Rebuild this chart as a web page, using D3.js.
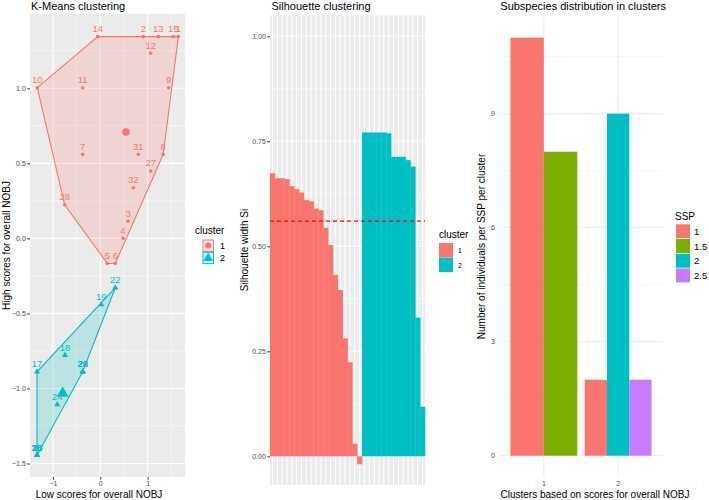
<!DOCTYPE html>
<html>
<head>
<meta charset="utf-8">
<script src="https://cdn.jsdelivr.net/npm/d3@7"></script>
<style>
  body { margin: 0; background: #fff; }
  text { font-family: "Liberation Sans", Arial, sans-serif; }
</style>
</head>
<body>
<div id="container"></div>
<script>
// ---- data ----
// k-means scores per individual
var pointLabels  = ["14","2","13","15","1","12","10","11","9","7","31","8","27","32","28","3","4","5","6",
                    "22","19","18","17","26","29","21","24","20","23","25","30","16"];
var pointX = [-0.055,0.91,1.226,1.54,1.65,1.065,-1.332,-0.372,1.446,-0.372,0.803,1.33,1.065,0.698,-0.753,0.586,0.48,0.148,0.317,
              0.317,0.02,-0.746,-1.338,-0.372,-0.372,-0.372,-0.909,-1.338,-1.338,-1.338,-1.338,-1.338];
var pointY = [1.344,1.344,1.344,1.344,1.344,1.233,1.004,1.004,1.004,0.56,0.56,0.56,0.449,0.337,0.224,0.115,0.0,-0.167,-0.167,
              -0.329,-0.44,-0.778,-0.889,-0.889,-0.889,-0.889,-1.107,-1.445,-1.445,-1.445,-1.445,-1.445];
var pointCluster = ["1","1","1","1","1","1","1","1","1","1","1","1","1","1","1","1","1","1","1",
                    "2","2","2","2","2","2","2","2","2","2","2","2","2"];
var centerCluster = ["1","2"];
var centerX = [0.543,-0.795];
var centerY = [0.708,-1.033];

// silhouette widths, sorted within cluster
var silCluster1 = [0.674,0.662,0.662,0.660,0.643,0.636,0.628,0.610,0.607,0.590,0.586,0.544,0.503,0.432,0.396,0.281,0.224,0.030,-0.019];
var silCluster2 = [0.771,0.771,0.771,0.771,0.771,0.769,0.713,0.713,0.713,0.705,0.690,0.330,0.118];
var silAverage = 0.56;

// subspecies counts per cluster
var sspLevels  = ["1","1.5","2","2.5"];
var sspCluster = ["1","1","2","2","2"];
var sspGroup   = ["1","1.5","1","2","2.5"];
var sspCount   = [11,8,2,9,2];

var clusterColors = ["#F8766D","#00BFC4"];
var sspColors = ["#F8766D","#7CAE00","#00BFC4","#C77CFF"];

var W = 709, H = 500;
var svg = d3.select("#container").append("svg")
  .attr("width", W).attr("height", H).attr("id", "chart");

var tickCol = "#4D4D4D";

// =============== panel 1: k-means ===============
var p1 = {l: 30, r: 185, t: 14, b: 477};
var x1 = d3.scaleLinear().domain([-1.486, 1.79]).range([p1.l, p1.r]);
var y1 = d3.scaleLinear().domain([-1.59, 1.495]).range([p1.b, p1.t]);
var col1 = d3.scaleOrdinal().domain(["1","2"]).range(clusterColors);

svg.append("rect").attr("x", p1.l).attr("y", p1.t)
  .attr("width", p1.r - p1.l).attr("height", p1.b - p1.t).attr("fill", "#EBEBEB");

var g1 = svg.append("g");
[-1.5,-0.5,0.5,1.5].forEach(function(v) {
  g1.append("line").attr("x1", x1(v)).attr("x2", x1(v)).attr("y1", p1.t).attr("y2", p1.b)
    .attr("stroke", "#fff").attr("stroke-width", 0.5);
});
[-1.25,-0.75,-0.25,0.25,0.75,1.25].forEach(function(v) {
  g1.append("line").attr("x1", p1.l).attr("x2", p1.r).attr("y1", y1(v)).attr("y2", y1(v))
    .attr("stroke", "#fff").attr("stroke-width", 0.5);
});
var x1ticks = [-1,0,1], y1ticks = [-1.5,-1,-0.5,0,0.5,1];
x1ticks.forEach(function(v) {
  g1.append("line").attr("x1", x1(v)).attr("x2", x1(v)).attr("y1", p1.t).attr("y2", p1.b)
    .attr("stroke", "#fff").attr("stroke-width", 1.1);
});
y1ticks.forEach(function(v) {
  g1.append("line").attr("x1", p1.l).attr("x2", p1.r).attr("y1", y1(v)).attr("y2", y1(v))
    .attr("stroke", "#fff").attr("stroke-width", 1.1);
});

// hulls
["1","2"].forEach(function(c) {
  var pts = [];
  pointX.forEach(function(v, i) { if (pointCluster[i] === c) pts.push([x1(v), y1(pointY[i])]); });
  var hull = d3.polygonHull(pts);
  g1.append("path").attr("d", "M" + hull.join("L") + "Z")
    .attr("fill", col1(c)).attr("fill-opacity", 0.2)
    .attr("stroke", col1(c)).attr("stroke-width", 1.1);
});

// points
var tri = d3.symbol().type(d3.symbolTriangle);
pointX.forEach(function(v, i) {
  var c = pointCluster[i], px = x1(v), py = y1(pointY[i]);
  if (c === "1") {
    g1.append("circle").attr("cx", px).attr("cy", py).attr("r", 1.8).attr("fill", col1(c));
  } else {
    g1.append("path").attr("d", tri.size(16)()).attr("transform", "translate(" + px + "," + py + ")")
      .attr("fill", col1(c));
  }
  g1.append("text").attr("x", px).attr("y", py - 4.5).attr("text-anchor", "middle")
    .attr("font-size", 9.5).attr("fill", col1(c)).text(pointLabels[i]);
});
centerX.forEach(function(v, i) {
  var c = centerCluster[i], px = x1(v), py = y1(centerY[i]);
  if (c === "1") {
    g1.append("circle").attr("cx", px).attr("cy", py).attr("r", 3.8).attr("fill", col1(c));
  } else {
    g1.append("path").attr("d", tri.size(60)()).attr("transform", "translate(" + px + "," + py + ")")
      .attr("fill", col1(c));
  }
});

// axes
var ax1 = svg.append("g").attr("transform", "translate(0," + p1.b + ")")
  .call(d3.axisBottom(x1).tickValues(x1ticks).tickSize(2.7).tickPadding(1.5).tickFormat(d3.format("d")));
var ay1 = svg.append("g").attr("transform", "translate(" + p1.l + ",0)")
  .call(d3.axisLeft(y1).tickValues(y1ticks).tickSize(2.7).tickPadding(1.5).tickFormat(d3.format(".1f")));
[ax1, ay1].forEach(function(a) {
  a.select(".domain").remove();
  a.selectAll("line").attr("stroke", "#333");
  a.selectAll("text").attr("fill", tickCol).attr("font-size", 7).attr("font-family", "Liberation Sans, Arial, sans-serif");
});

svg.append("text").attr("x", p1.l + 1).attr("y", 10).attr("font-size", 11).text("K-Means clustering");
svg.append("text").attr("x", 99).attr("y", 497.5).attr("text-anchor", "middle").attr("font-size", 10)
  .text("Low scores for overall NOBJ");
svg.append("text").attr("transform", "translate(10,245.5) rotate(-90)").attr("text-anchor", "middle")
  .attr("font-size", 10).text("High scores for overall NOBJ");

// legend 1
var lg1 = svg.append("g");
lg1.append("text").attr("x", 195).attr("y", 233.5).attr("font-size", 10).text("cluster");
["1","2"].forEach(function(c, i) {
  var ky = 240 + i * 12.3;
  lg1.append("rect").attr("x", 203).attr("y", ky).attr("width", 10.5).attr("height", 11.3)
    .attr("fill", col1(c)).attr("fill-opacity", 0.2).attr("stroke", col1(c)).attr("stroke-width", 1);
  if (c === "1") {
    lg1.append("circle").attr("cx", 208.2).attr("cy", ky + 5.6).attr("r", 3).attr("fill", col1(c));
  } else {
    lg1.append("path").attr("d", tri.size(40)()).attr("transform", "translate(208.2," + (ky + 6) + ")")
      .attr("fill", col1(c));
  }
  lg1.append("text").attr("x", 220).attr("y", ky + 9).attr("font-size", 9).text(c);
});

// =============== panel 2: silhouette ===============
var p2 = {l: 270, r: 425, t: 15.3, b: 485};
var silIds = [], silVals = [], silClus = [];
silCluster1.forEach(function(v, i) { silIds.push("a" + i); silVals.push(v); silClus.push("1"); });
silCluster2.forEach(function(v, i) { silIds.push("b" + i); silVals.push(v); silClus.push("2"); });
var x2 = d3.scaleBand().domain(silIds).range([p2.l, p2.r]).padding(0);
var y2 = d3.scaleLinear().domain([-0.0683, 1.05]).range([p2.b, p2.t]);

svg.append("rect").attr("x", p2.l).attr("y", p2.t)
  .attr("width", p2.r - p2.l).attr("height", p2.b - p2.t).attr("fill", "#EBEBEB");
var g2 = svg.append("g");
[0.125,0.375,0.625,0.875].forEach(function(v) {
  g2.append("line").attr("x1", p2.l).attr("x2", p2.r).attr("y1", y2(v)).attr("y2", y2(v))
    .attr("stroke", "#fff").attr("stroke-width", 0.5);
});
var y2ticks = [0,0.25,0.5,0.75,1];
y2ticks.forEach(function(v) {
  g2.append("line").attr("x1", p2.l).attr("x2", p2.r).attr("y1", y2(v)).attr("y2", y2(v))
    .attr("stroke", "#fff").attr("stroke-width", 1.1);
});
silIds.forEach(function(id) {
  var cx = x2(id) + x2.bandwidth() / 2;
  g2.append("line").attr("x1", cx).attr("x2", cx).attr("y1", p2.t).attr("y2", p2.b)
    .attr("stroke", "#fff").attr("stroke-width", 1.1);
});
silIds.forEach(function(id, i) {
  var v = silVals[i];
  g2.append("rect").attr("x", x2(id)).attr("width", x2.bandwidth() + 0.3)
    .attr("y", y2(Math.max(0, v))).attr("height", Math.abs(y2(v) - y2(0)))
    .attr("fill", col1(silClus[i]));
});
g2.append("line").attr("x1", p2.l).attr("x2", p2.r).attr("y1", y2(silAverage)).attr("y2", y2(silAverage))
  .attr("stroke", "#FF0000").attr("stroke-width", 1.1).attr("stroke-dasharray", "4,3");

var ay2 = svg.append("g").attr("transform", "translate(" + p2.l + ",0)")
  .call(d3.axisLeft(y2).tickValues(y2ticks).tickSize(2.7).tickPadding(1.5).tickFormat(d3.format(".2f")));
ay2.select(".domain").remove();
ay2.selectAll("line").attr("stroke", "#333");
ay2.selectAll("text").attr("fill", tickCol).attr("font-size", 7).attr("font-family", "Liberation Sans, Arial, sans-serif");

svg.append("text").attr("x", p2.l + 1.5).attr("y", 10).attr("font-size", 11).text("Silhouette clustering");
svg.append("text").attr("transform", "translate(248,250) rotate(-90)").attr("text-anchor", "middle")
  .attr("font-size", 10).text("Silhouette width Si");

var lg2 = svg.append("g");
lg2.append("text").attr("x", 439).attr("y", 238).attr("font-size", 10).text("cluster");
["1","2"].forEach(function(c, i) {
  var ky = 243 + i * 14.7;
  lg2.append("rect").attr("x", 439).attr("y", ky).attr("width", 14).attr("height", 14.5).attr("fill", col1(c));
  lg2.append("text").attr("x", 458).attr("y", ky + 10).attr("font-size", 7).text(c);
});

// =============== panel 3: subspecies ===============
var p3 = {l: 499.3, r: 662.7, t: 16.8, b: 476.6};
var x3 = d3.scaleBand().domain(["1","2"]).range([p3.l, p3.r]).paddingInner(0.1).paddingOuter(0.15);
var y3 = d3.scaleLinear().domain([-0.55, 11.55]).range([p3.b, p3.t]);
var col3 = d3.scaleOrdinal().domain(sspLevels).range(sspColors);

var g3 = svg.append("g");
[1.5,4.5,7.5,10.5].forEach(function(v) {
  g3.append("line").attr("x1", p3.l).attr("x2", p3.r).attr("y1", y3(v)).attr("y2", y3(v))
    .attr("stroke", "#EBEBEB").attr("stroke-width", 0.5);
});
var y3ticks = [0,3,6,9];
y3ticks.forEach(function(v) {
  g3.append("line").attr("x1", p3.l).attr("x2", p3.r).attr("y1", y3(v)).attr("y2", y3(v))
    .attr("stroke", "#EBEBEB").attr("stroke-width", 1);
});
x3.domain().forEach(function(c) {
  var cx = x3(c) + x3.bandwidth() / 2;
  g3.append("line").attr("x1", cx).attr("x2", cx).attr("y1", p3.t).attr("y2", p3.b)
    .attr("stroke", "#EBEBEB").attr("stroke-width", 1);
});

x3.domain().forEach(function(c) {
  var groups = sspGroup.filter(function(g, i) { return sspCluster[i] === c; });
  var inner = d3.scaleBand().domain(groups).range([x3(c), x3(c) + x3.bandwidth()]);
  sspCount.forEach(function(n, i) {
    if (sspCluster[i] !== c) return;
    g3.append("rect").attr("x", inner(sspGroup[i])).attr("width", inner.bandwidth())
      .attr("y", y3(n)).attr("height", y3(0) - y3(n)).attr("fill", col3(sspGroup[i]));
  });
});

var ax3 = svg.append("g").attr("transform", "translate(0," + p3.b + ")")
  .call(d3.axisBottom(x3).tickSize(0).tickPadding(4.5));
var ay3 = svg.append("g").attr("transform", "translate(" + p3.l + ",0)")
  .call(d3.axisLeft(y3).tickValues(y3ticks).tickSize(0).tickPadding(4.5));
[ax3, ay3].forEach(function(a) {
  a.select(".domain").remove();
  a.selectAll("text").attr("fill", tickCol).attr("font-size", 7).attr("font-family", "Liberation Sans, Arial, sans-serif");
});

svg.append("text").attr("x", p3.l + 1).attr("y", 10).attr("font-size", 11).text("Subspecies distribution in clusters");
svg.append("text").attr("x", 595).attr("y", 497.5).attr("text-anchor", "middle").attr("font-size", 10)
  .text("Clusters based on scores for overall NOBJ");
svg.append("text").attr("transform", "translate(485,246.5) rotate(-90)").attr("text-anchor", "middle")
  .attr("font-size", 10).text("Number of individuals per SSP per cluster");

var lg3 = svg.append("g");
lg3.append("text").attr("x", 675).attr("y", 220).attr("font-size", 10).text("SSP");
sspLevels.forEach(function(s, i) {
  var ky = 224.3 + i * 14.7;
  lg3.append("rect").attr("x", 676).attr("y", ky).attr("width", 14).attr("height", 14).attr("fill", col3(s));
  lg3.append("text").attr("x", 694).attr("y", ky + 10.5).attr("font-size", 9.5).text(s);
});
</script>
</body>
</html>
